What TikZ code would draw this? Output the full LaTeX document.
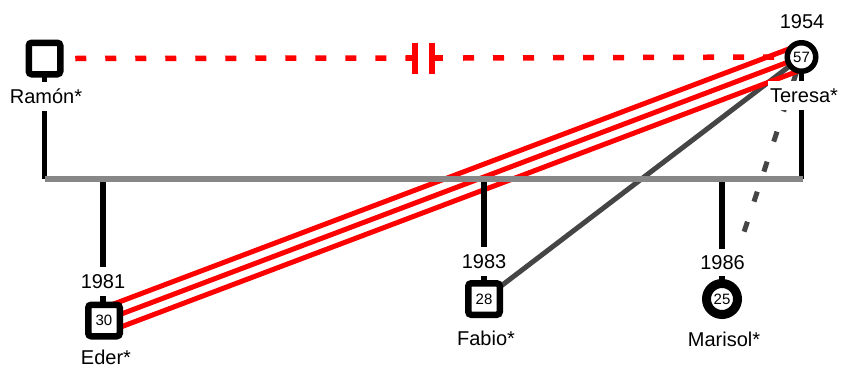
\documentclass[tikz,border=0pt]{standalone}
\usepackage{fontspec}
\setmainfont{Liberation Sans}
\usetikzlibrary{calc}
\definecolor{PartnerClr}{rgb}{1,0,0}
\definecolor{BarClr}{rgb}{0.53,0.53,0.53}
\definecolor{LinkClr}{rgb}{0.27,0.27,0.27}
\pgfdeclarelayer{bg}
\pgfsetlayers{bg,main}

\begin{document}
\begin{tikzpicture}[x=1pt,y=-1pt,
  person/.style={draw,line width=6.5pt,fill=white,inner sep=0pt,outer sep=0pt,
    font=\fontsize{15}{15}\selectfont},
  male/.style={person,rounded corners=3pt,minimum size=31.5pt},
  female/.style={person,circle,line width=5.5pt,minimum size=28.5pt},
  tag/.style={fill=white,inner xsep=2pt,inner ysep=7.5pt,text height=14pt,
    text depth=0pt,font=\fontsize{20}{20}\selectfont},
  partner/.style={PartnerClr,line width=5.5pt},
  broken/.style={partner,dash pattern=on 11pt off 19pt},
  rel/.style={PartnerClr,line width=5pt},
  link/.style={LinkClr,line width=5pt},
  kin/.style={line width=5.5pt},
  bar/.style={BarClr,line width=6pt}]
\useasboundingbox (0,0) rectangle (843,367);

% parents
\node[male] (Ramon) at (44.5,58.5) {};
\node[female] (Teresa) at (801.5,57) {57};
\node[tag] (RamonName) at (46,96.5) {Ramón*};
\node[tag] (TeresaName) at (804,95.5) {Teresa*};
\node[tag] (TeresaYear) at (802,21.5) {1954};

% children
\node[male] (Eder) at (104,320.5) {30};
\node[male] (Fabio) at (484,299) {28};
\node[female,line width=9pt,minimum size=31pt] (Marisol) at (722,299) {25};
\node[tag] (EderYear) at (103,281) {1981};
\node[tag] (FabioYear) at (484,261.5) {1983};
\node[tag,inner ysep=6.5pt] (MarisolYear) at (722.5,262.5) {1986};
\node[tag] (EderName) at (106,357) {Eder*};
\node[tag] (FabioName) at (486,338) {Fabio*};
\node[tag] (MarisolName) at (724,339) {Marisol*};

\coordinate (DivA) at (415,58);
\coordinate (DivB) at (432,58);
\coordinate (BarL) at (44.5,179);
\coordinate (BarR) at (803,179);

\begin{pgfonlayer}{bg}
% separated couple
\draw[broken] ([xshift=15pt]Ramon.east) -- ([xshift=-9pt]DivA);
\draw[partner] ([xshift=-9pt]DivA) -- (DivA);
\draw[partner] ($(DivA)+(0,-15.5)$) -- ($(DivA)+(0,15.5)$);
\draw[partner] ($(DivB)+(0,-15.5)$) -- ($(DivB)+(0,15.5)$);
\draw[partner] (DivB) -- ([xshift=11pt]DivB);
\draw[broken] ([xshift=31pt]DivB) -- (Teresa.west);

% relations to Teresa
\draw[link] (Fabio) -- (Teresa);
\draw[link,dash pattern=on 10.5pt off 21.1pt,dash phase=30.5pt] (Teresa) -- (Marisol);
\draw[rel] ($(Eder)!12pt!90:(Teresa)$) -- ($(Teresa)!12pt!-90:(Eder)$);
\draw[rel] (Eder) -- (Teresa);
\draw[rel] ($(Eder)!12pt!-90:(Teresa)$) -- ($(Teresa)!12pt!90:(Eder)$);

% descent lines
\draw[kin] (Ramon) -- (Ramon |- BarL);
\draw[kin] (Teresa |- BarR) -- (Teresa);
\draw[kin] (EderYear |- BarL) -- (EderYear |- Eder);
\draw[kin] (Fabio |- BarL) -- (Fabio);
\draw[kin] (Marisol |- BarL) -- (Marisol);
\draw[bar] (BarL) -- (BarR);
\end{pgfonlayer}
\end{tikzpicture}
\end{document}
